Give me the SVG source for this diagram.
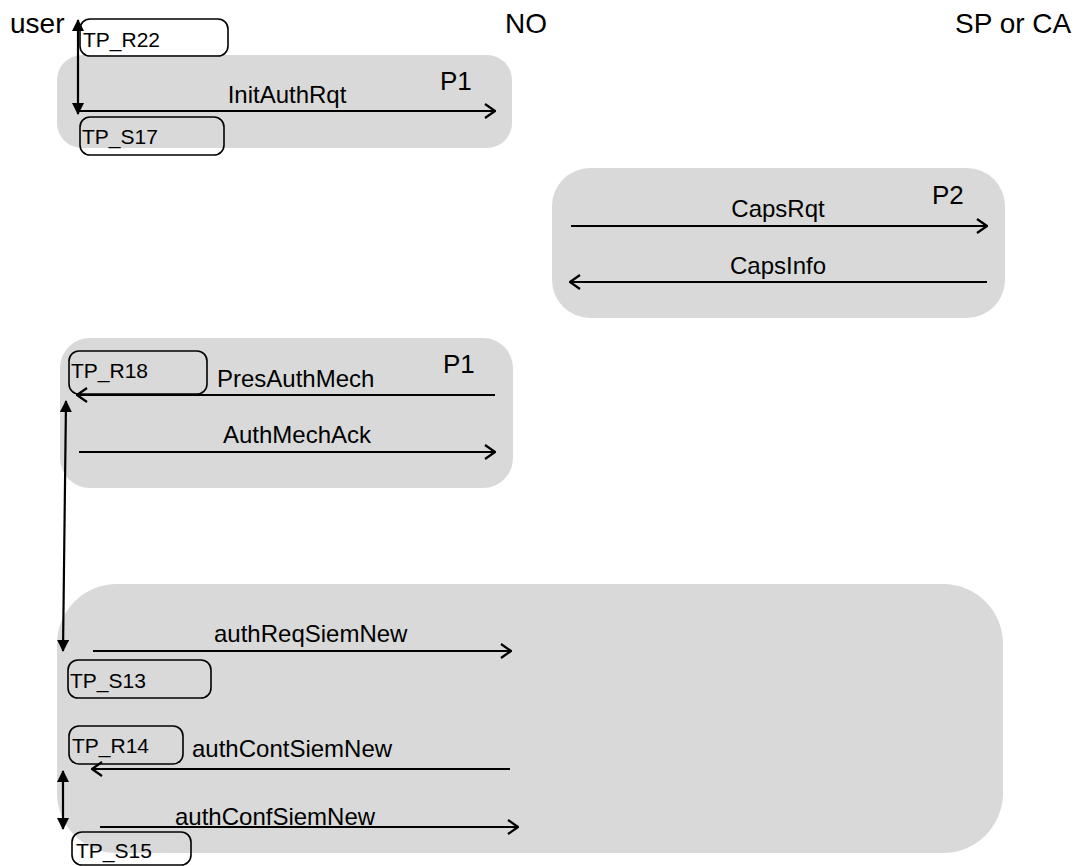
<svg xmlns="http://www.w3.org/2000/svg" width="1082" height="866" viewBox="0 0 1082 866">
  <style>
    .panel { fill: #d9d9d9; stroke: none; }
    .tp { fill: none; stroke: #000; stroke-width: 1.6; }
    .tptxt { font-family: "Liberation Sans", Arial, sans-serif; font-size: 21px; fill: #000; }
    .msg { font-family: "Liberation Sans", Arial, sans-serif; font-size: 24px; fill: #000; }
    .phase { font-family: "Liberation Sans", Arial, sans-serif; font-size: 26px; fill: #000; }
    .actor { font-family: "Liberation Sans", Arial, sans-serif; font-size: 28px; fill: #000; }
    .flow { stroke: #000; stroke-width: 2.2; fill: none; marker-end: url(#open); }
    .span { stroke: #000; stroke-width: 2.2; fill: none; marker-start: url(#solid); marker-end: url(#solid); }
  </style>
  <defs>
    <!-- open chevron head for message flows -->
    <marker id="open" viewBox="0 0 12 16" refX="11" refY="8" markerWidth="12" markerHeight="16" markerUnits="userSpaceOnUse" orient="auto">
      <path d="M1,1 L11,8 L1,15" fill="none" stroke="#000" stroke-width="2.2"/>
    </marker>
    <!-- filled head for timing spans -->
    <marker id="solid" viewBox="0 0 12 12" refX="11" refY="6" markerWidth="12" markerHeight="12" markerUnits="userSpaceOnUse" orient="auto-start-reverse">
      <path d="M0,0 L12,6 L0,12 Z" fill="#000"/>
    </marker>
  </defs>

  <!-- actors -->
  <g id="actors">
    <text class="actor" x="10" y="33">user</text>
    <text class="actor" x="505" y="33">NO</text>
    <text class="actor" x="955" y="33">SP or CA</text>
  </g>

  <!-- phase panels -->
  <g id="phase-p1-init">
    <rect class="panel" x="57" y="55" width="455" height="93" rx="25"/>
    <text class="phase" x="440" y="90">P1</text>
  </g>
  <g id="phase-p2">
    <rect class="panel" x="552" y="168" width="453" height="150" rx="38"/>
    <text class="phase" x="932" y="204">P2</text>
  </g>
  <g id="phase-p1-mech">
    <rect class="panel" x="60" y="338" width="453" height="150" rx="30"/>
    <text class="phase" x="443" y="373">P1</text>
  </g>
  <g id="phase-siem">
    <rect class="panel" x="57" y="584" width="946" height="269" rx="60"/>
  </g>

  <!-- test point tags -->
  <g id="tp-r22">
    <rect class="tp" x="80" y="19" width="148" height="37" rx="10"/>
    <text class="tptxt" x="83" y="47">TP_R22</text>
  </g>
  <g id="tp-s17">
    <rect class="tp" x="80" y="117" width="144" height="38" rx="10"/>
    <text class="tptxt" x="82" y="144">TP_S17</text>
  </g>
  <g id="tp-r18">
    <rect class="tp" x="69" y="351" width="138" height="43" rx="10"/>
    <text class="tptxt" x="71" y="378">TP_R18</text>
  </g>
  <g id="tp-s13">
    <rect class="tp" x="68" y="660" width="143" height="38" rx="10"/>
    <text class="tptxt" x="70" y="688">TP_S13</text>
  </g>
  <g id="tp-r14">
    <rect class="tp" x="69" y="726" width="114" height="38" rx="10"/>
    <text class="tptxt" x="72" y="753">TP_R14</text>
  </g>
  <g id="tp-s15">
    <rect class="tp" x="72" y="832" width="119" height="33" rx="10"/>
    <text class="tptxt" x="76" y="858">TP_S15</text>
  </g>

  <!-- message labels -->
  <g id="labels">
    <text class="msg" x="287" y="103" text-anchor="middle">InitAuthRqt</text>
    <text class="msg" x="778" y="217" text-anchor="middle">CapsRqt</text>
    <text class="msg" x="778" y="274" text-anchor="middle">CapsInfo</text>
    <text class="msg" x="217" y="387">PresAuthMech</text>
    <text class="msg" x="297" y="443" text-anchor="middle">AuthMechAck</text>
    <text class="msg" x="214" y="642">authReqSiemNew</text>
    <text class="msg" x="192" y="757">authContSiemNew</text>
    <text class="msg" x="175" y="825">authConfSiemNew</text>
  </g>

  <!-- connectors -->
  <g id="connectors">
    <line class="flow" x1="78" y1="111" x2="495" y2="111"/>
    <line class="flow" x1="571" y1="226" x2="987" y2="226"/>
    <line class="flow" x1="987" y1="282" x2="570" y2="282"/>
    <line class="flow" x1="495" y1="395" x2="77" y2="395"/>
    <line class="flow" x1="79" y1="452" x2="495" y2="452"/>
    <line class="flow" x1="93" y1="651" x2="511" y2="651"/>
    <line class="flow" x1="510" y1="769" x2="92" y2="769"/>
    <line class="flow" x1="100" y1="827" x2="518" y2="827"/>
    <line class="span" x1="78" y1="20" x2="78" y2="114"/>
    <line class="span" x1="66" y1="401" x2="63" y2="651"/>
    <line class="span" x1="63" y1="771" x2="63" y2="829"/>
  </g>
</svg>
